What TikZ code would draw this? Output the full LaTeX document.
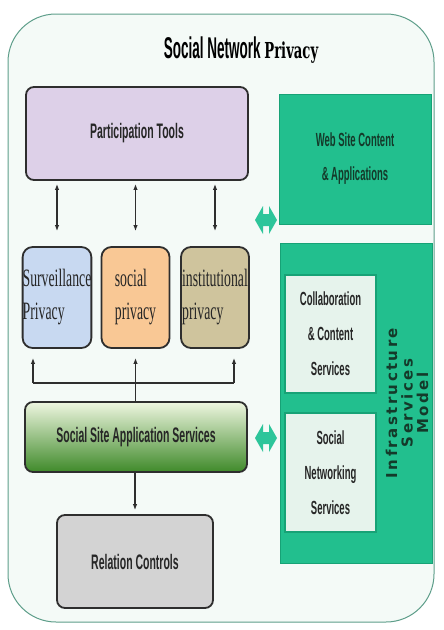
\documentclass[tikz,border=0pt]{standalone}
\usepackage{fontspec}
\usetikzlibrary{arrows.meta,positioning}
\setmainfont{Liberation Serif}
\newfontfamily\narrowsf[FakeStretch=0.5]{Liberation Sans}
\newfontfamily\titlesf[FakeStretch=0.45]{Liberation Sans}
\newfontfamily\narrowrm[FakeStretch=0.55]{Liberation Serif}
\newfontfamily\slabrm[FakeStretch=0.6]{DejaVu Serif}
\newfontfamily\widesf[LetterSpace=16]{DejaVu Sans}

\definecolor{framefill}{HTML}{F4FAF7}
\definecolor{frameline}{HTML}{5E9E8A}
\definecolor{tealfill}{HTML}{22BF8E}
\definecolor{tealline}{HTML}{17A276}
\definecolor{innerfill}{HTML}{E6F3EC}
\definecolor{lilac}{HTML}{DDD0E8}
\definecolor{paleblue}{HTML}{C8D9F1}
\definecolor{peach}{HTML}{F9C895}
\definecolor{khaki}{HTML}{CFC49D}
\definecolor{relgray}{HTML}{D3D3D3}
\definecolor{sitetop}{HTML}{EEF6E0}
\definecolor{sitemid}{HTML}{9CCB7A}
\definecolor{sitebot}{HTML}{3F8A2A}
\definecolor{swapteal}{HTML}{2DC59A}
\definecolor{boxline}{HTML}{2E2E2E}
\definecolor{webtext}{HTML}{143A2A}
\definecolor{darktext}{HTML}{262626}

\begin{document}
\begin{tikzpicture}[x=1pt, y=-1pt,
    box/.style={draw=boxline, line width=1.8pt, rounded corners=8pt, inner sep=0pt,
        text=darktext, font=\narrowsf\bfseries\fontsize{21}{21}\selectfont},
    privbox/.style={box, rounded corners=10pt, minimum width=68pt, minimum height=101pt,
        align=left, font=\narrowrm\fontsize{25}{33}\selectfont},
    tealbox/.style={draw=tealline, fill=tealfill, line width=1pt, inner sep=0pt},
    innerbox/.style={draw=tealline, fill=innerfill, line width=1.2pt, inner sep=0pt,
        minimum width=91pt, align=center, text=darktext,
        font=\narrowsf\bfseries\fontsize{19}{35}\selectfont},
    link/.style={line width=1.3pt, draw=boxline},
    tip/.style={-{Latex[length=6pt,width=4.5pt]}},
    swaparrow/.pic={
        \fill[swapteal] (-11,0) -- (-3,-14) -- (-3,-6) -- (3,-6) -- (3,-14) -- (11,0)
            -- (3,14) -- (3,6) -- (-3,6) -- (-3,14) -- cycle;
    }]
    \useasboundingbox (0,0) rectangle (444,630);
    \draw[draw=frameline, fill=framefill, line width=1pt, rounded corners=48pt]
        (8,14) rectangle (434,622);
    \node[anchor=base] (title) at (241,58)
        {\titlesf\bfseries\fontsize{30}{30}\selectfont Social Network
         \slabrm\bfseries\fontsize{22}{22}\selectfont Privacy};
    % Left column of rounded boxes.
        \node[box, fill=lilac, minimum width=222pt, minimum height=93pt] (tools)
            at (137,133.5) {Participation Tools};
        \node[privbox, fill=paleblue] (surv) at (57,297.5) {Surveillance\\Privacy};
        \node[privbox, fill=peach] (soc) at (135.5,297.5) {social\\privacy};
        \node[privbox, fill=khaki] (inst) at (215,297.5) {institutional\\privacy};
        \node[box, top color=sitetop, middle color=sitemid, bottom color=sitebot,
            minimum width=222pt, minimum height=70pt] (site)
            at (136,437) {Social Site Application Services};
        \node[box, fill=relgray, minimum width=156pt, minimum height=93pt] (rel)
            at (135,561.5) {Relation Controls};
    % Right column, the green blocks.
        \node[tealbox, minimum width=152pt, minimum height=130pt, align=center,
            text=webtext, font=\narrowsf\bfseries\fontsize{19}{34}\selectfont] (web)
            at (355,159) {Web Site Content\\\& Applications};
        \node[tealbox, minimum width=152pt, minimum height=320pt] (infra) at (356,403) {};
        \node[innerbox, minimum height=118pt] (collab) at (330.5,334)
            {Collaboration\\\& Content\\Services};
        \node[innerbox, minimum height=119pt] (snet) at (330.5,472.5)
            {Social\\Networking\\Services};
        \node[rotate=90, align=center, text=webtext,
            font=\widesf\bfseries\fontsize{15}{15.5}\selectfont] (infralabel)
            at (407,403) {Infrastructure\\Services\\Model};
    % The two fat swap arrows.
        \pic (swapweb) at (266,220) {swaparrow};
        \pic (swapsite) at (266,438) {swaparrow};
    % Arrows between tools and the three privacy boxes.
        \foreach \b in {surv,soc,inst}
            \draw[link, {Latex[length=6pt,width=4.5pt]}-{Latex[length=6pt,width=4.5pt]},
                shorten <=3pt, shorten >=15pt] (\b.north |- tools.south) -- (\b.north);
    % The bus under the privacy boxes.
        \coordinate (busy) at (0,383);
        \draw[link] ([xshift=-24pt]surv.south |- busy) -- ([xshift=19pt]inst.south |- busy);
        \draw[link, tip] ([xshift=-24pt]surv.south |- busy) -- ([xshift=-24pt,yshift=-9pt]surv.south);
        \draw[link, tip] ([xshift=19pt]inst.south |- busy) -- ([xshift=19pt,yshift=-9pt]inst.south);
        \draw[link, tip] (soc.south |- site.north) -- ([yshift=-9pt]soc.south);
        \draw[link, tip, shorten >=4pt] (rel.north |- site.south) -- (rel.north);
\end{tikzpicture}
\end{document}
